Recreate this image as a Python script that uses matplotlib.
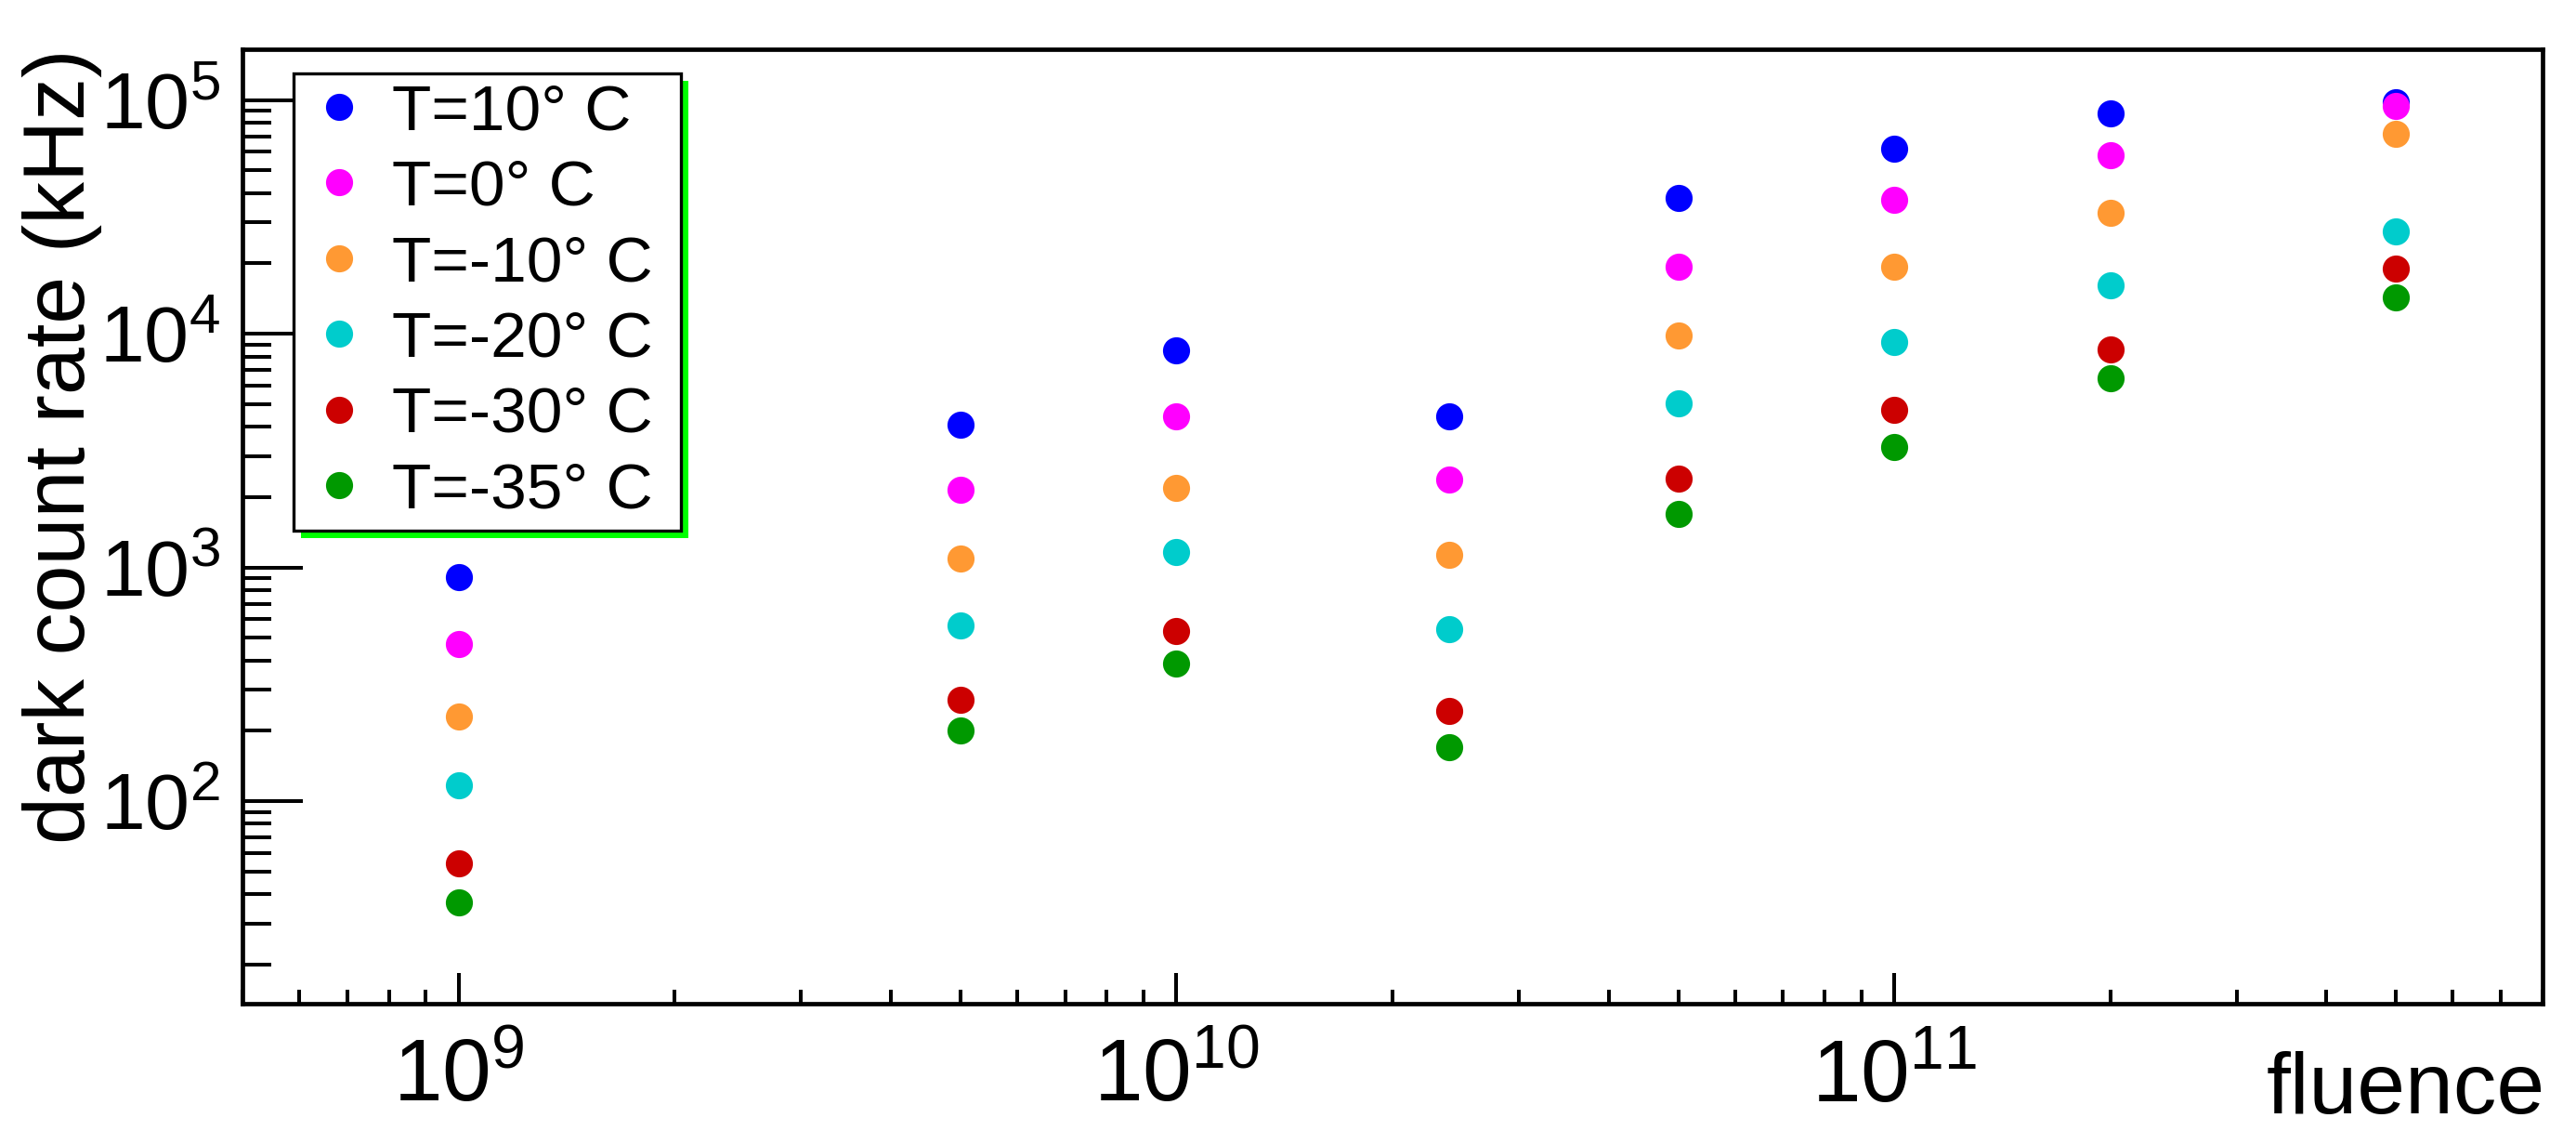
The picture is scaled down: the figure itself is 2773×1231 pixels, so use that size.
import numpy as np
import matplotlib
matplotlib.use("Agg")
import matplotlib.pyplot as plt
from matplotlib.ticker import LogLocator, NullFormatter
from matplotlib.patches import Rectangle
from matplotlib.transforms import IdentityTransform

plt.rcParams['font.family'] = ['Liberation Sans', 'DejaVu Sans']
plt.rcParams['mathtext.fontset'] = 'custom'
plt.rcParams['mathtext.rm'] = 'Liberation Sans'
plt.rcParams['mathtext.it'] = 'Liberation Sans'
plt.rcParams['mathtext.default'] = 'regular'

# fluence points
fluence = [1e9, 5e9, 1e10, 2.4e10, 5e10, 1e11, 2e11, 5e11]

# dark count rate (kHz) per temperature
dcr_p10 = [906, 4100, 8500, 4450, 38000, 62000, 88000, 98000]
dcr_0 = [470, 2150, 4450, 2370, 19300, 37500, 58000, 94000]
dcr_m10 = [231, 1090, 2190, 1130, 9800, 19300, 33000, 72000]
dcr_m20 = [117, 563, 1165, 546, 5060, 9200, 16100, 27400]
dcr_m30 = [54, 272, 537, 243, 2400, 4740, 8600, 19000]
dcr_m35 = [37, 200, 389, 171, 1690, 3270, 6440, 14300]

labels = ["T=10° C", "T=0° C", "T=-10° C",
          "T=-20° C", "T=-30° C", "T=-35° C"]
colors = ["#0000ff", "#ff00ff", "#ff9933", "#00cccc", "#cc0000", "#009900"]
series = [dcr_p10, dcr_0, dcr_m10, dcr_m20, dcr_m30, dcr_m35]

W, H = 2773, 1231
fig = plt.figure(figsize=(W / 100, H / 100), dpi=100)
ax = fig.add_axes([261 / W, 1 - 1080 / H, (2737 - 261) / W, (1080 - 53) / H])

for y, c, lab in zip(series, colors, labels):
    ax.plot(fluence, y, 'o', color=c, markersize=21, markeredgewidth=0,
            linestyle='none', label=lab)

ax.set_xscale('log')
ax.set_yscale('log')
ax.set_xlim(5e8, 8e11)
ax.set_ylim(13.6, 1.65e5)

for a in (ax.xaxis, ax.yaxis):
    a.set_major_locator(LogLocator(base=10))
    a.set_minor_locator(LogLocator(base=10, subs=np.arange(2, 10)))
    a.set_minor_formatter(NullFormatter())

for s in ax.spines.values():
    s.set_linewidth(3.4)

ax.tick_params(which='both', direction='in', top=False, right=False, width=2.9)
ax.tick_params(axis='x', which='major', length=24, pad=26, labelsize=68)
ax.tick_params(axis='x', which='minor', length=11)
ax.tick_params(axis='y', which='major', length=47, pad=17, labelsize=62)
ax.tick_params(axis='y', which='minor', length=22)

fig.text(67 / W, 1 - 53 / H, "dark count rate (kHz)", rotation=90,
         ha='center', va='top', fontsize=66)
fig.text(2740 / W, 1 - 1198 / H, "fluence", ha='right', va='baseline',
         fontsize=67)

leg = ax.legend(loc='upper left',
                bbox_to_anchor=(316 / W, 1 - 566 / H, (733 - 316) / W, (566 - 79) / H),
                bbox_transform=fig.transFigure, mode='expand', fontsize=50,
                frameon=True, fancybox=False, edgecolor='black', framealpha=1,
                borderaxespad=0, borderpad=0.15, labelspacing=0.25,
                handlelength=1.1, handletextpad=0.27, markerscale=1.0)
leg.get_frame().set_linewidth(2.4)
leg.set_zorder(5)

# green drop shadow behind the legend box
fig.canvas.draw()
bb = leg.get_frame().get_window_extent()
shadow = Rectangle((bb.x0 + 8, bb.y0 - 8), bb.width, bb.height,
                   transform=IdentityTransform(), facecolor='#00ff00',
                   edgecolor='none', zorder=4, clip_on=False)
ax.add_artist(shadow)

fig.savefig("out.png", dpi=100)
